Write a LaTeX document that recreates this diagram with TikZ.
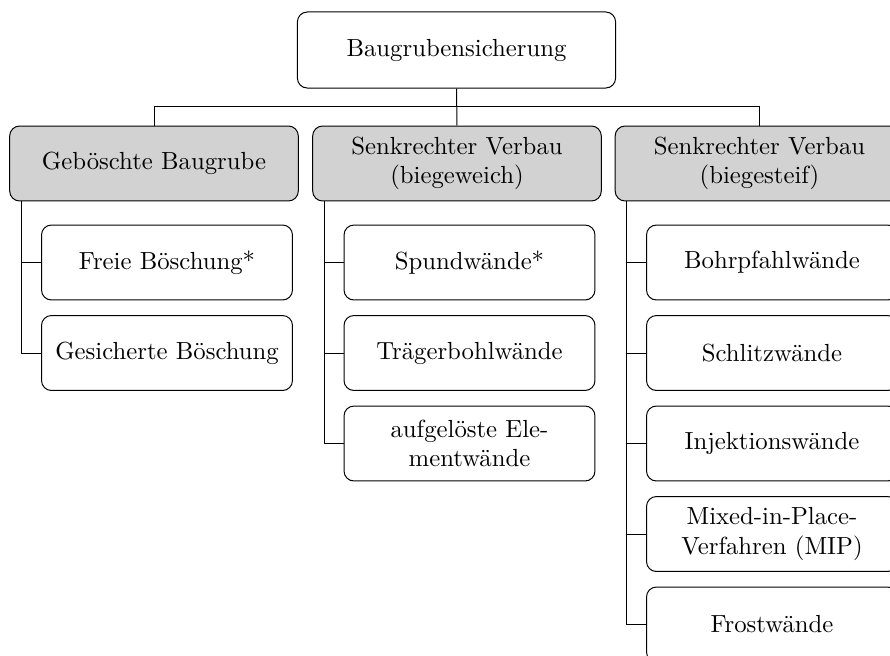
\documentclass[tikz,border=0pt]{standalone}
\usepackage{tikz}
\tikzstyle{rootbox} = [draw=black, fill=white, rounded corners=4pt, minimum width=4.52cm, minimum height=1.08cm, align=center]
\tikzstyle{catbox} = [draw=black, fill=gray!35, rounded corners=4pt, minimum width=4.10cm, minimum height=1.065cm, align=center]
\tikzstyle{itembox} = [draw=black, fill=white, rounded corners=4pt, minimum width=3.565cm, minimum height=1.065cm, align=center]

\begin{document}
\begin{tikzpicture}[x=0.0142cm, y=-0.0142cm]
  \useasboundingbox (0,0) rectangle (890,656);
  \clip (0,0) rectangle (890,656);

  \node[rootbox] (root) at (456.5,50) {Baugrubensicherung};

  \node[catbox] (geb) at (154,163.5) {Geböschte Baugrube};
  \node[catbox] (weich) at (457,163.5) {Senkrechter Verbau\\(biegeweich)};
  \node[catbox] (steif) at (759.5,163.5) {Senkrechter Verbau\\(biegesteif)};

  \draw (root.south) -- (weich.north);
  \draw (geb.north) -- ++(0,-19) -| (steif.north);

  % geboeschte Baugrube
  \node[itembox] (frei) at (167,262.5) {Freie Böschung*};
  \node[itembox] (gesi) at (167,353) {Gesicherte Böschung};
  \draw ([xshift=0.17cm]geb.south west) |- (frei.west);
  \draw ([xshift=0.17cm]geb.south west) |- (gesi.west);

  % biegeweich
  \node[itembox] (spund) at (469.5,262.5) {Spundwände*};
  \node[itembox] (traeger) at (469.5,353) {Trägerbohlwände};
  \node[itembox] (elem) at (469.5,443.5) {aufgelöste Ele-\\mentwände};
  \draw ([xshift=0.17cm]weich.south west) |- (spund.west);
  \draw ([xshift=0.17cm]weich.south west) |- (traeger.west);
  \draw ([xshift=0.17cm]weich.south west) |- (elem.west);

  % biegesteif
  \node[itembox] (bohr) at (772,262.5) {Bohrpfahlwände};
  \node[itembox] (schlitz) at (772,353) {Schlitzwände};
  \node[itembox] (inj) at (772,443.5) {Injektionswände};
  \node[itembox] (mip) at (772,534) {Mixed-in-Place-\\Verfahren (MIP)};
  \node[itembox] (frost) at (772,624.5) {Frostwände};
  \draw ([xshift=0.17cm]steif.south west) |- (bohr.west);
  \draw ([xshift=0.17cm]steif.south west) |- (schlitz.west);
  \draw ([xshift=0.17cm]steif.south west) |- (inj.west);
  \draw ([xshift=0.17cm]steif.south west) |- (mip.west);
  \draw ([xshift=0.17cm]steif.south west) |- (frost.west);

\end{tikzpicture}
\end{document}
